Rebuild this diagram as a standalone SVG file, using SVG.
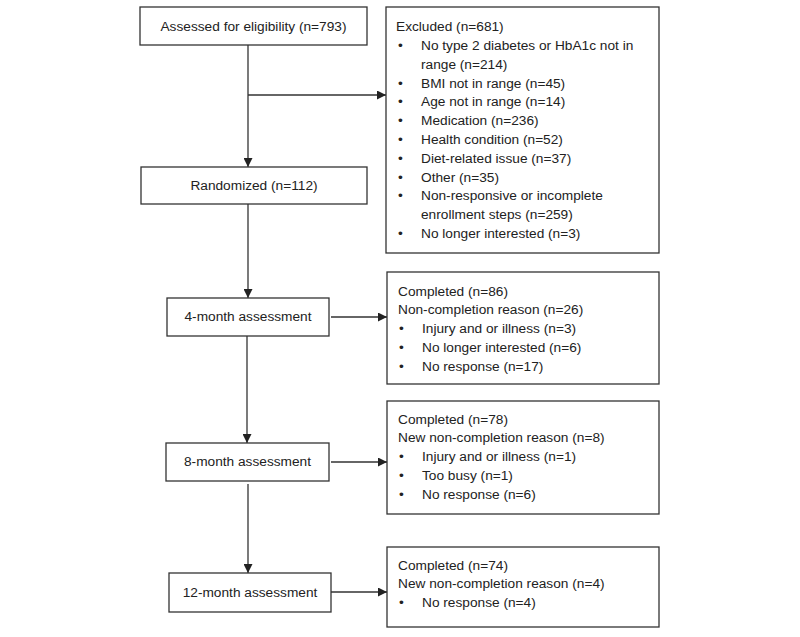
<svg xmlns="http://www.w3.org/2000/svg" width="800" height="637" viewBox="0 0 800 637">
<style>
.box{fill:#fff;stroke:#333;stroke-width:1.3}
.ln{stroke:#333;stroke-width:1.3;fill:none}
text{font-family:"Liberation Sans",Arial,sans-serif;font-size:13.7px;fill:#222}
.c{text-anchor:middle}
</style>
<defs>
<marker id="ah" viewBox="0 0 10 10" refX="10" refY="5" markerWidth="9" markerHeight="9" markerUnits="userSpaceOnUse" orient="auto">
<path d="M0,0 L10,5 L0,10 z" fill="#222"/>
</marker>
</defs>
<rect width="800" height="637" fill="#fff"/>
<g id="connectors">
<line class="ln" x1="248" y1="45" x2="248" y2="167" marker-end="url(#ah)"/>
<line class="ln" x1="248" y1="95" x2="386" y2="95" marker-end="url(#ah)"/>
<line class="ln" x1="248" y1="204" x2="248" y2="298" marker-end="url(#ah)"/>
<line class="ln" x1="331" y1="317" x2="387" y2="317" marker-end="url(#ah)"/>
<line class="ln" x1="247" y1="336" x2="247" y2="443" marker-end="url(#ah)"/>
<line class="ln" x1="331" y1="462" x2="387" y2="462" marker-end="url(#ah)"/>
<line class="ln" x1="248" y1="484" x2="248" y2="573" marker-end="url(#ah)"/>
<line class="ln" x1="331" y1="592" x2="387" y2="592" marker-end="url(#ah)"/>
</g>
<g id="assessed">
<rect class="box" x="140" y="7" width="227" height="38"/>
<text class="c" x="253.5" y="31">Assessed for eligibility (n=793)</text>
</g>
<g id="excluded">
<rect class="box" x="386" y="7" width="273" height="246"/>
<text x="396" y="31">Excluded (n=681)</text>
<g>
<text x="398" y="50">•</text><text x="421" y="50">No type 2 diabetes or HbA1c not in</text>
<text x="421" y="69">range (n=214)</text>
<text x="398" y="88">•</text><text x="421" y="88">BMI not in range (n=45)</text>
<text x="398" y="106">•</text><text x="421" y="106">Age not in range (n=14)</text>
<text x="398" y="125">•</text><text x="421" y="125">Medication (n=236)</text>
<text x="398" y="144">•</text><text x="421" y="144">Health condition (n=52)</text>
<text x="398" y="163">•</text><text x="421" y="163">Diet-related issue (n=37)</text>
<text x="398" y="182">•</text><text x="421" y="182">Other (n=35)</text>
<text x="398" y="200">•</text><text x="421" y="200">Non-responsive or incomplete</text>
<text x="421" y="219">enrollment steps (n=259)</text>
<text x="398" y="238">•</text><text x="421" y="238">No longer interested (n=3)</text>
</g>
</g>
<g id="randomized">
<rect class="box" x="141" y="167" width="226" height="37"/>
<text class="c" x="254" y="190">Randomized (n=112)</text>
</g>
<g id="month4">
<rect class="box" x="167" y="298" width="162" height="38"/>
<text class="c" x="248" y="321">4-month assessment</text>
</g>
<g id="completed4">
<rect class="box" x="387" y="272" width="272" height="112"/>
<text x="398" y="296">Completed (n=86)</text>
<text x="398" y="314">Non-completion reason (n=26)</text>
<text x="399" y="333">•</text><text x="422" y="333">Injury and or illness (n=3)</text>
<text x="399" y="352">•</text><text x="422" y="352">No longer interested (n=6)</text>
<text x="399" y="371">•</text><text x="422" y="371">No response (n=17)</text>
</g>
<g id="month8">
<rect class="box" x="166" y="443" width="163" height="38"/>
<text class="c" x="247.5" y="466">8-month assessment</text>
</g>
<g id="completed8">
<rect class="box" x="387" y="401" width="272" height="113"/>
<text x="398" y="424">Completed (n=78)</text>
<text x="398" y="442">New non-completion reason (n=8)</text>
<text x="399" y="461">•</text><text x="422" y="461">Injury and or illness (n=1)</text>
<text x="399" y="480">•</text><text x="422" y="480">Too busy (n=1)</text>
<text x="399" y="499">•</text><text x="422" y="499">No response (n=6)</text>
</g>
<g id="month12">
<rect class="box" x="169" y="573" width="162" height="39"/>
<text class="c" x="250" y="597">12-month assessment</text>
</g>
<g id="completed12">
<rect class="box" x="387" y="547" width="272" height="80"/>
<text x="398" y="570">Completed (n=74)</text>
<text x="398" y="588">New non-completion reason (n=4)</text>
<text x="399" y="607">•</text><text x="422" y="607">No response (n=4)</text>
</g>
</svg>
